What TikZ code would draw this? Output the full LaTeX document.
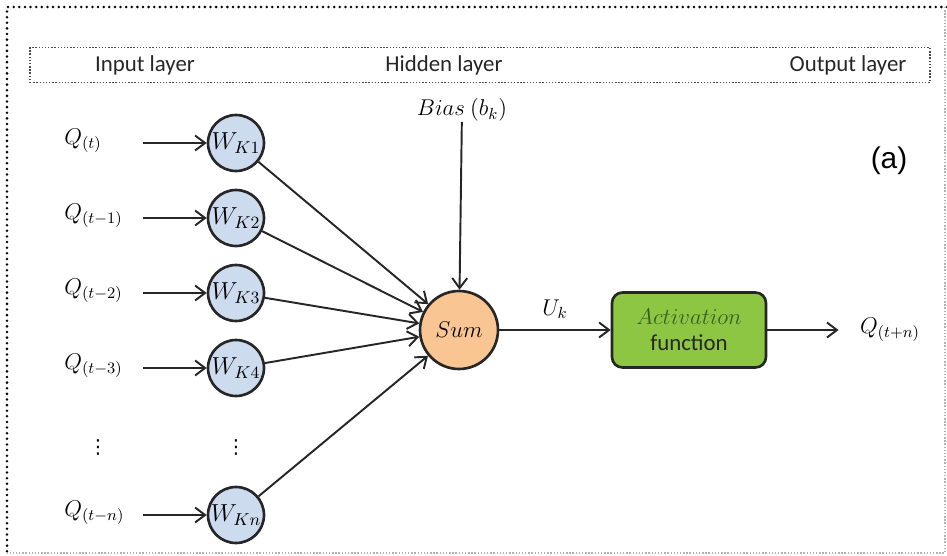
\RequirePackage{fix-cm}
\documentclass[tikz,border=0pt]{standalone}
\usepackage{fontspec}
\setmainfont{Carlito}
\newfontfamily\arialfont{Liberation Sans}
\newfontfamily\dotsfont{DejaVu Sans}
\definecolor{WeightBlue}{RGB}{205,219,238}
\definecolor{SumOrange}{RGB}{249,197,147}
\definecolor{ActGreen}{RGB}{141,198,66}
\definecolor{ActText}{RGB}{55,95,35}
\usetikzlibrary{positioning, arrows.meta}

\begin{document}
\begin{tikzpicture}[x=0.02cm, y=-0.02cm,
  conn/.style={-{Straight Barb[length=2mm, width=3mm]}, line width=1.1pt, draw=black!85},
  weight/.style={circle, draw=black!85, line width=1.5pt, fill=WeightBlue,
    minimum size=1.12cm, inner sep=0pt, font=\fontsize{14}{16}\selectfont},
  qlabel/.style={inner sep=0pt, font=\fontsize{13}{15}\selectfont},
  layertext/.style={font=\fontsize{13}{15}\selectfont, text=black!85}]
  \useasboundingbox (0,0) rectangle (947,555);

  % Frame
  \draw[line width=1.6pt, dash pattern=on 0pt off 3.2pt, line cap=round]
    (947,7) -- (7,7) -- (7,555);
  \draw[black!30, line width=0.8pt, densely dotted] (945,7) -- (945,553) -- (7,553);

  % Layer header
  \node[draw=black!70, densely dotted, line width=0.8pt, minimum width=18cm,
    minimum height=0.7cm] (hdr) at (480,65) {};
  \node[layertext] (inlayer) at (145,65) {Input layer};
  \node[layertext] (hidlayer) at (444,65) {Hidden layer};
  \node[layertext] (outlayer) at (848,65) {Output layer};

  % Inputs and weights
  \foreach \i/\y/\lag in {1/143/t, 2/218/t-1, 3/293/t-2, 4/368/t-3, n/515/t-n} {
    \node[qlabel, anchor=west] (q\i) at (64,\y-2) {$Q_{(\lag)}$};
    \coordinate (s\i) at (143,\y);
    \node[weight] (w\i) at (236,\y) {$W_{K\i}$};
    \draw[conn] (s\i) -- (w\i);
  }
  \node[qlabel, font=\dotsfont\fontsize{11}{13}\selectfont] (vq) at (98,447) {⋮};
  \node[qlabel, font=\dotsfont\fontsize{11}{13}\selectfont] (vw) at (236,447) {⋮};

  % Summation
  \node[circle, draw=black!85, line width=1.5pt, fill=SumOrange, minimum size=1.56cm,
    inner sep=0pt, font=\fontsize{13}{15}\selectfont] (sum) at (459,330) {$Sum$};
  \node[qlabel] (bias) at (462,110) {$Bias\ (b_k)$};
  \draw[conn] (bias) -- (sum);
  \foreach \i in {1,2,3,4,n}
    \draw[conn] (w\i) -- (sum);

  % Activation and output
  \node[draw=black!85, line width=1.5pt, fill=ActGreen, rounded corners=6pt,
    minimum width=3.08cm, minimum height=1.5cm, align=center,
    font=\fontsize{13}{16}\selectfont] (act) at (689,330)
    {\textcolor{ActText}{$Activation$}\\[-1pt]\textcolor{black!85}{function}};
  \draw[conn] (sum) -- node[qlabel, above=6pt] (uk) {$U_k$} (act);
  \node[qlabel] (out) at (890,330) {$Q_{(t+n)}$};
  \draw[conn, shorten >=12pt] (act) -- (out);

  \node[font=\arialfont\fontsize{17}{19}\selectfont] (tag) at (889,161) {(a)};
\end{tikzpicture}
\end{document}
